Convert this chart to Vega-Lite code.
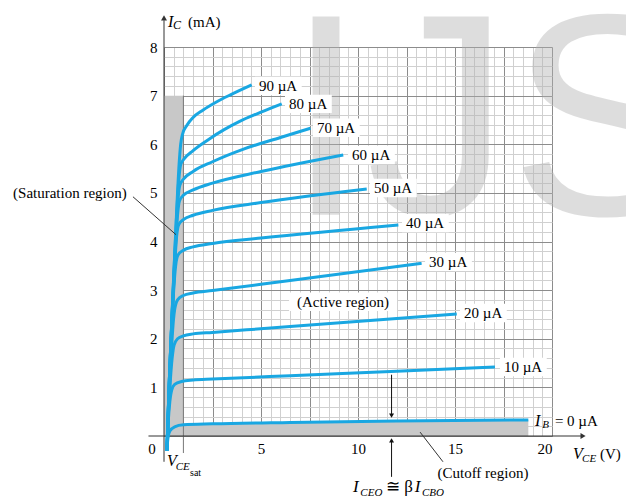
{
  "$schema": "https://vega.github.io/schema/vega-lite/v6.json",
  "width": 388,
  "height": 389,
  "autosize": {"type": "none"},
  "padding": {"left": 164, "top": 47, "right": 74, "bottom": 66},
  "background": "white",
  "config": {"view": {"stroke": null}, "text": {"font": "Liberation Serif", "color": "black"}},
  "datasets": {
    "curves": [
      {"ib": "0", "v": 0.15, "i": -0.3}, {"ib": "0", "v": 0.2, "i": -0.05}, {"ib": "0", "v": 0.3, "i": 0.1}, {"ib": "0", "v": 0.55, "i": 0.19}, {"ib": "0", "v": 1.0, "i": 0.23}, {"ib": "0", "v": 2.5, "i": 0.25}, {"ib": "0", "v": 6.5, "i": 0.28}, {"ib": "0", "v": 12, "i": 0.31}, {"ib": "0", "v": 18.78, "i": 0.33},
      {"ib": "10", "v": 0.15, "i": -0.3}, {"ib": "10", "v": 0.22, "i": 0.3}, {"ib": "10", "v": 0.3, "i": 0.7}, {"ib": "10", "v": 0.4, "i": 0.95}, {"ib": "10", "v": 0.55, "i": 1.06}, {"ib": "10", "v": 0.9, "i": 1.12}, {"ib": "10", "v": 1.5, "i": 1.15}, {"ib": "10", "v": 2.5, "i": 1.17}, {"ib": "10", "v": 6.5, "i": 1.24}, {"ib": "10", "v": 12, "i": 1.33}, {"ib": "10", "v": 17.06, "i": 1.42},
      {"ib": "20", "v": 0.15, "i": -0.3}, {"ib": "20", "v": 0.22, "i": 0.4}, {"ib": "20", "v": 0.32, "i": 1.1}, {"ib": "20", "v": 0.42, "i": 1.6}, {"ib": "20", "v": 0.52, "i": 1.87}, {"ib": "20", "v": 0.7, "i": 2.0}, {"ib": "20", "v": 1.0, "i": 2.06}, {"ib": "20", "v": 1.5, "i": 2.1}, {"ib": "20", "v": 2.5, "i": 2.13}, {"ib": "20", "v": 6.5, "i": 2.25}, {"ib": "20", "v": 15.09, "i": 2.51},
      {"ib": "30", "v": 0.15, "i": -0.3}, {"ib": "30", "v": 0.23, "i": 0.5}, {"ib": "30", "v": 0.35, "i": 1.5}, {"ib": "30", "v": 0.45, "i": 2.2}, {"ib": "30", "v": 0.55, "i": 2.6}, {"ib": "30", "v": 0.7, "i": 2.8}, {"ib": "30", "v": 1.0, "i": 2.89}, {"ib": "30", "v": 1.5, "i": 2.94}, {"ib": "30", "v": 2.5, "i": 2.99}, {"ib": "30", "v": 6.5, "i": 3.2}, {"ib": "30", "v": 13.28, "i": 3.55},
      {"ib": "40", "v": 0.15, "i": -0.3}, {"ib": "40", "v": 0.25, "i": 0.8}, {"ib": "40", "v": 0.38, "i": 2.0}, {"ib": "40", "v": 0.5, "i": 3.0}, {"ib": "40", "v": 0.6, "i": 3.5}, {"ib": "40", "v": 0.72, "i": 3.72}, {"ib": "40", "v": 1.0, "i": 3.82}, {"ib": "40", "v": 1.5, "i": 3.89}, {"ib": "40", "v": 2.5, "i": 3.96}, {"ib": "40", "v": 5, "i": 4.07}, {"ib": "40", "v": 12.08, "i": 4.34},
      {"ib": "50", "v": 0.15, "i": -0.3}, {"ib": "50", "v": 0.26, "i": 1.0}, {"ib": "50", "v": 0.4, "i": 2.3}, {"ib": "50", "v": 0.55, "i": 3.5}, {"ib": "50", "v": 0.65, "i": 4.1}, {"ib": "50", "v": 0.76, "i": 4.35}, {"ib": "50", "v": 1.0, "i": 4.45}, {"ib": "50", "v": 1.5, "i": 4.54}, {"ib": "50", "v": 2.5, "i": 4.64}, {"ib": "50", "v": 5, "i": 4.8}, {"ib": "50", "v": 10.45, "i": 5.08},
      {"ib": "60", "v": 0.15, "i": -0.3}, {"ib": "60", "v": 0.27, "i": 1.1}, {"ib": "60", "v": 0.42, "i": 2.5}, {"ib": "60", "v": 0.58, "i": 3.8}, {"ib": "60", "v": 0.7, "i": 4.55}, {"ib": "60", "v": 0.8, "i": 4.84}, {"ib": "60", "v": 1.0, "i": 4.95}, {"ib": "60", "v": 1.5, "i": 5.06}, {"ib": "60", "v": 2.5, "i": 5.2}, {"ib": "60", "v": 5, "i": 5.44}, {"ib": "60", "v": 9.24, "i": 5.78},
      {"ib": "70", "v": 0.15, "i": -0.3}, {"ib": "70", "v": 0.28, "i": 1.2}, {"ib": "70", "v": 0.44, "i": 2.7}, {"ib": "70", "v": 0.6, "i": 4.0}, {"ib": "70", "v": 0.72, "i": 4.85}, {"ib": "70", "v": 0.82, "i": 5.16}, {"ib": "70", "v": 1.0, "i": 5.28}, {"ib": "70", "v": 1.5, "i": 5.44}, {"ib": "70", "v": 2.5, "i": 5.64}, {"ib": "70", "v": 4.1, "i": 5.9}, {"ib": "70", "v": 6.0, "i": 6.14}, {"ib": "70", "v": 7.55, "i": 6.33},
      {"ib": "80", "v": 0.15, "i": -0.3}, {"ib": "80", "v": 0.29, "i": 1.3}, {"ib": "80", "v": 0.46, "i": 2.9}, {"ib": "80", "v": 0.62, "i": 4.3}, {"ib": "80", "v": 0.75, "i": 5.2}, {"ib": "80", "v": 0.86, "i": 5.58}, {"ib": "80", "v": 1.0, "i": 5.68}, {"ib": "80", "v": 1.5, "i": 5.87}, {"ib": "80", "v": 2.3, "i": 6.1}, {"ib": "80", "v": 3.1, "i": 6.3}, {"ib": "80", "v": 3.9, "i": 6.47}, {"ib": "80", "v": 5.0, "i": 6.66}, {"ib": "80", "v": 6.07, "i": 6.83},
      {"ib": "90", "v": 0.15, "i": -0.3}, {"ib": "90", "v": 0.3, "i": 1.4}, {"ib": "90", "v": 0.48, "i": 3.1}, {"ib": "90", "v": 0.65, "i": 4.6}, {"ib": "90", "v": 0.78, "i": 5.6}, {"ib": "90", "v": 0.86, "i": 6.0}, {"ib": "90", "v": 0.95, "i": 6.2}, {"ib": "90", "v": 1.2, "i": 6.4}, {"ib": "90", "v": 1.5, "i": 6.55}, {"ib": "90", "v": 2.0, "i": 6.7}, {"ib": "90", "v": 2.7, "i": 6.87}, {"ib": "90", "v": 3.5, "i": 7.03}, {"ib": "90", "v": 4.52, "i": 7.22}
    ],
    "labels": [
      {"lab": "90 µA", "v": 4.79, "i": 7.2},
      {"lab": "80 µA", "v": 6.34, "i": 6.83},
      {"lab": "70 µA", "v": 7.78, "i": 6.34},
      {"lab": "60 µA", "v": 9.59, "i": 5.78},
      {"lab": "50 µA", "v": 10.72, "i": 5.1},
      {"lab": "40 µA", "v": 12.37, "i": 4.38},
      {"lab": "30 µA", "v": 13.56, "i": 3.58},
      {"lab": "20 µA", "v": 15.36, "i": 2.53},
      {"lab": "10 µA", "v": 17.42, "i": 1.42}
    ]
  },
  "layer": [
    {
      "data": {"values": [{}]},
      "mark": {"type": "point", "opacity": 0},
      "encoding": {
        "x": {"datum": 0, "type": "quantitative", "scale": {"domain": [0, 20], "nice": false, "zero": false},
          "axis": {"orient": "top", "title": null, "labels": false, "ticks": false, "domain": false, "grid": true, "gridColor": "#d0d0d0", "gridWidth": 1,
            "values": [0,0.5,1,1.5,2,2.5,3,3.5,4,4.5,5,5.5,6,6.5,7,7.5,8,8.5,9,9.5,10,10.5,11,11.5,12,12.5,13,13.5,14,14.5,15,15.5,16,16.5,17,17.5,18,18.5,19,19.5,20]}},
        "y": {"datum": 0, "type": "quantitative", "scale": {"domain": [0, 8], "nice": false, "zero": false},
          "axis": {"orient": "right", "title": null, "labels": false, "ticks": false, "domain": false, "grid": true, "gridColor": "#d0d0d0", "gridWidth": 1,
            "values": [0,0.2,0.4,0.6,0.8,1,1.2,1.4,1.6,1.8,2,2.2,2.4,2.6,2.8,3,3.2,3.4,3.6,3.8,4,4.2,4.4,4.6,4.8,5,5.2,5.4,5.6,5.8,6,6.2,6.4,6.6,6.8,7,7.2,7.4,7.6,7.8,8]}}
      }
    },
    {
      "layer": [
        {
          "data": {"name": "curves"},
          "transform": [{"filter": "datum.ib === '0' && datum.v >= 1"}],
          "mark": {"type": "area", "interpolate": "monotone", "color": "#c8c8c8"},
          "encoding": {
            "x": {"field": "v", "type": "quantitative", "scale": {"domain": [0, 20], "nice": false, "zero": false},
              "axis": {"orient": "bottom", "title": null, "grid": true, "gridColor": "#8c8c8c", "gridWidth": 1, "domain": false, "ticks": false,
                "values": [0, 2.5, 5, 7.5, 10, 12.5, 15, 17.5, 20],
                "labelExpr": "datum.value % 5 === 0 && datum.value > 0 ? datum.label : ''",
                "labelFont": "Liberation Serif", "labelFontSize": 15, "labelColor": "black", "labelPadding": 5, "labelBaseline": "top"}},
            "y": {"field": "i", "type": "quantitative", "scale": {"domain": [0, 8], "nice": false, "zero": false},
              "axis": {"orient": "left", "title": null, "grid": true, "gridColor": "#8c8c8c", "gridWidth": 1, "domain": false, "ticks": false,
                "values": [0, 1, 2, 3, 4, 5, 6, 7, 8],
                "labelExpr": "datum.value > 0 ? datum.label : ''",
                "labelFont": "Liberation Serif", "labelFontSize": 15, "labelColor": "black", "labelPadding": 7}},
            "y2": {"datum": 0}
          }
        },
        {
          "data": {"values": [{}]},
          "mark": {"type": "rect", "color": "#c8c8c8"},
          "encoding": {
            "x": {"datum": 0, "type": "quantitative"}, "x2": {"datum": 1},
            "y": {"datum": 0, "type": "quantitative"}, "y2": {"datum": 7}
          }
        },
        {
          "data": {"values": [{}]},
          "mark": {"type": "text", "text": "IJS", "font": "Liberation Sans", "fontSize": 288, "align": "left", "baseline": "alphabetic", "color": "#b0b0b0", "opacity": 0.42},
          "encoding": {"x": {"datum": 6.29, "type": "quantitative"}, "y": {"datum": 4.55, "type": "quantitative"}}
        },
        {
          "data": {"values": [{}]},
          "mark": {"type": "rule", "color": "#777777", "strokeWidth": 1},
          "encoding": {"x": {"datum": 1, "type": "quantitative"}, "y": {"datum": -0.35, "type": "quantitative"}, "y2": {"datum": 7}}
        },
        {
          "data": {"values": [{}]},
          "mark": {"type": "rule", "color": "#333333", "strokeWidth": 1},
          "encoding": {"x": {"datum": 0, "type": "quantitative"}, "y": {"datum": -0.53, "type": "quantitative"}, "y2": {"datum": 8.55}}
        },
        {
          "data": {"values": [{}]},
          "mark": {"type": "rule", "color": "#333333", "strokeWidth": 1},
          "encoding": {"x": {"datum": -0.8, "type": "quantitative"}, "x2": {"datum": 21.5}, "y": {"datum": 0, "type": "quantitative"}}
        },
        {
          "data": {"values": [{}]},
          "mark": {"type": "point", "shape": "triangle-up", "filled": true, "color": "#333333", "size": 35, "opacity": 1},
          "encoding": {"x": {"datum": 0, "type": "quantitative"}, "y": {"datum": 8.6, "type": "quantitative"}}
        },
        {
          "data": {"values": [{}]},
          "mark": {"type": "point", "shape": "triangle-right", "filled": true, "color": "#333333", "size": 35, "opacity": 1},
          "encoding": {"x": {"datum": 21.6, "type": "quantitative"}, "y": {"datum": 0, "type": "quantitative"}}
        },
        {
          "data": {"name": "curves"},
          "mark": {"type": "line", "interpolate": "monotone", "color": "#19a7e2", "strokeWidth": 3, "strokeCap": "butt"},
          "encoding": {
            "x": {"field": "v", "type": "quantitative"},
            "y": {"field": "i", "type": "quantitative"},
            "detail": {"field": "ib"}
          }
        },
        {
          "data": {"values": [{}]},
          "mark": {"type": "rule", "color": "#333333", "strokeWidth": 1},
          "encoding": {"x": {"datum": -1.6, "type": "quantitative"}, "y": {"datum": 4.92, "type": "quantitative"}, "x2": {"datum": 0.62}, "y2": {"datum": 4.14}}
        },
        {
          "data": {"values": [{}]},
          "mark": {"type": "rule", "color": "#333333", "strokeWidth": 1},
          "encoding": {"x": {"datum": 13.2, "type": "quantitative"}, "y": {"datum": 0.08, "type": "quantitative"}, "x2": {"datum": 14.38}, "y2": {"datum": -0.53}}
        },
        {
          "data": {"values": [{}]},
          "mark": {"type": "rule", "color": "#111111", "strokeWidth": 1},
          "encoding": {"x": {"datum": 11.73, "type": "quantitative"}, "y": {"datum": 1.26, "type": "quantitative"}, "y2": {"datum": 0.45}}
        },
        {
          "data": {"values": [{}]},
          "mark": {"type": "point", "shape": "triangle-down", "filled": true, "color": "#111111", "size": 25, "opacity": 1},
          "encoding": {"x": {"datum": 11.73, "type": "quantitative"}, "y": {"datum": 0.42, "type": "quantitative"}}
        },
        {
          "data": {"values": [{}]},
          "mark": {"type": "rule", "color": "#111111", "strokeWidth": 1},
          "encoding": {"x": {"datum": 11.73, "type": "quantitative"}, "y": {"datum": -0.84, "type": "quantitative"}, "y2": {"datum": -0.12}}
        },
        {
          "data": {"values": [{}]},
          "mark": {"type": "point", "shape": "triangle-up", "filled": true, "color": "#111111", "size": 25, "opacity": 1},
          "encoding": {"x": {"datum": 11.73, "type": "quantitative"}, "y": {"datum": -0.09, "type": "quantitative"}}
        },
        {
          "data": {"name": "labels"},
          "mark": {"type": "point", "shape": "M-0.05,-0.23H1.12V0.23H-0.05Z", "filled": true, "color": "white", "size": 6400, "opacity": 1, "strokeWidth": 0},
          "encoding": {"x": {"field": "v", "type": "quantitative"}, "y": {"field": "i", "type": "quantitative"}}
        },
        {
          "data": {"name": "labels"},
          "mark": {"type": "text", "fontSize": 15, "align": "left", "baseline": "middle", "dx": 2},
          "encoding": {"x": {"field": "v", "type": "quantitative"}, "y": {"field": "i", "type": "quantitative"}, "text": {"field": "lab"}}
        },
        {
          "data": {"values": [{}]},
          "mark": {"type": "point", "shape": "M-1.35,-0.23H1.35V0.23H-1.35Z", "filled": true, "color": "white", "size": 6400, "opacity": 1, "strokeWidth": 0},
          "encoding": {"x": {"datum": 9.23, "type": "quantitative"}, "y": {"datum": 2.76, "type": "quantitative"}}
        },
        {
          "data": {"values": [{}]},
          "mark": {"type": "text", "text": "(Active region)", "fontSize": 15, "align": "center", "baseline": "middle"},
          "encoding": {"x": {"datum": 9.23, "type": "quantitative"}, "y": {"datum": 2.76, "type": "quantitative"}}
        },
        {
          "data": {"values": [{}]},
          "mark": {"type": "text", "text": "(Saturation region)", "fontSize": 15, "align": "center", "baseline": "middle"},
          "encoding": {"x": {"datum": -4.85, "type": "quantitative"}, "y": {"datum": 5.0, "type": "quantitative"}}
        },
        {
          "data": {"values": [{}]},
          "mark": {"type": "text", "text": "(Cutoff region)", "fontSize": 15, "align": "center", "baseline": "middle"},
          "encoding": {"x": {"datum": 16.44, "type": "quantitative"}, "y": {"datum": -0.76, "type": "quantitative"}}
        },
        {
          "data": {"values": [{}]},
          "mark": {"type": "text", "text": "0", "fontSize": 15, "align": "center", "baseline": "middle"},
          "encoding": {"x": {"datum": -0.62, "type": "quantitative"}, "y": {"datum": -0.27, "type": "quantitative"}}
        },
        {
          "data": {"values": [{}]},
          "mark": {"type": "text", "text": "I", "fontSize": 16, "fontStyle": "italic", "align": "left", "baseline": "alphabetic"},
          "encoding": {"x": {"datum": 0.2, "type": "quantitative"}, "y": {"datum": 8.42, "type": "quantitative"}}
        },
        {
          "data": {"values": [{}]},
          "mark": {"type": "text", "text": "C", "fontSize": 12, "fontStyle": "italic", "align": "left", "baseline": "alphabetic"},
          "encoding": {"x": {"datum": 0.47, "type": "quantitative"}, "y": {"datum": 8.38, "type": "quantitative"}}
        },
        {
          "data": {"values": [{}]},
          "mark": {"type": "text", "text": "(mA)", "fontSize": 15, "align": "left", "baseline": "alphabetic"},
          "encoding": {"x": {"datum": 1.24, "type": "quantitative"}, "y": {"datum": 8.42, "type": "quantitative"}}
        },
        {
          "data": {"values": [{}]},
          "mark": {"type": "text", "text": "V", "fontSize": 16, "fontStyle": "italic", "align": "left", "baseline": "alphabetic"},
          "encoding": {"x": {"datum": 21.08, "type": "quantitative"}, "y": {"datum": -0.47, "type": "quantitative"}}
        },
        {
          "data": {"values": [{}]},
          "mark": {"type": "text", "text": "CE", "fontSize": 11, "fontStyle": "italic", "align": "left", "baseline": "alphabetic"},
          "encoding": {"x": {"datum": 21.55, "type": "quantitative"}, "y": {"datum": -0.54, "type": "quantitative"}}
        },
        {
          "data": {"values": [{}]},
          "mark": {"type": "text", "text": "(V)", "fontSize": 15, "align": "left", "baseline": "alphabetic"},
          "encoding": {"x": {"datum": 22.47, "type": "quantitative"}, "y": {"datum": -0.47, "type": "quantitative"}}
        },
        {
          "data": {"values": [{}]},
          "mark": {"type": "text", "text": "V", "fontSize": 16, "fontStyle": "italic", "align": "left", "baseline": "alphabetic"},
          "encoding": {"x": {"datum": 0.15, "type": "quantitative"}, "y": {"datum": -0.62, "type": "quantitative"}}
        },
        {
          "data": {"values": [{}]},
          "mark": {"type": "text", "text": "CE", "fontSize": 11, "fontStyle": "italic", "align": "left", "baseline": "alphabetic"},
          "encoding": {"x": {"datum": 0.6, "type": "quantitative"}, "y": {"datum": -0.69, "type": "quantitative"}}
        },
        {
          "data": {"values": [{}]},
          "mark": {"type": "text", "text": "sat", "fontSize": 10, "align": "left", "baseline": "alphabetic"},
          "encoding": {"x": {"datum": 1.34, "type": "quantitative"}, "y": {"datum": -0.82, "type": "quantitative"}}
        },
        {
          "data": {"values": [{}]},
          "mark": {"type": "text", "text": "I", "fontSize": 16, "fontStyle": "italic", "align": "left", "baseline": "alphabetic"},
          "encoding": {"x": {"datum": 19.12, "type": "quantitative"}, "y": {"datum": 0.2, "type": "quantitative"}}
        },
        {
          "data": {"values": [{}]},
          "mark": {"type": "text", "text": "B", "fontSize": 11, "fontStyle": "italic", "align": "left", "baseline": "alphabetic"},
          "encoding": {"x": {"datum": 19.5, "type": "quantitative"}, "y": {"datum": 0.16, "type": "quantitative"}}
        },
        {
          "data": {"values": [{}]},
          "mark": {"type": "text", "text": "= 0 µA", "fontSize": 15, "align": "left", "baseline": "alphabetic"},
          "encoding": {"x": {"datum": 20.15, "type": "quantitative"}, "y": {"datum": 0.2, "type": "quantitative"}}
        },
        {
          "data": {"values": [{}]},
          "mark": {"type": "text", "text": "I", "fontSize": 17, "fontStyle": "italic", "align": "left", "baseline": "alphabetic"},
          "encoding": {"x": {"datum": 9.74, "type": "quantitative"}, "y": {"datum": -1.15, "type": "quantitative"}}
        },
        {
          "data": {"values": [{}]},
          "mark": {"type": "text", "text": "CEO", "fontSize": 11, "fontStyle": "italic", "align": "left", "baseline": "alphabetic"},
          "encoding": {"x": {"datum": 10.12, "type": "quantitative"}, "y": {"datum": -1.23, "type": "quantitative"}}
        },
        {
          "data": {"values": [{}]},
          "mark": {"type": "text", "text": "≅ β", "fontSize": 17, "align": "left", "baseline": "alphabetic"},
          "encoding": {"x": {"datum": 11.44, "type": "quantitative"}, "y": {"datum": -1.15, "type": "quantitative"}}
        },
        {
          "data": {"values": [{}]},
          "mark": {"type": "text", "text": "I", "fontSize": 17, "fontStyle": "italic", "align": "left", "baseline": "alphabetic"},
          "encoding": {"x": {"datum": 12.92, "type": "quantitative"}, "y": {"datum": -1.15, "type": "quantitative"}}
        },
        {
          "data": {"values": [{}]},
          "mark": {"type": "text", "text": "CBO", "fontSize": 11, "fontStyle": "italic", "align": "left", "baseline": "alphabetic"},
          "encoding": {"x": {"datum": 13.3, "type": "quantitative"}, "y": {"datum": -1.23, "type": "quantitative"}}
        }
      ]
    }
  ],
  "resolve": {"axis": {"x": "independent", "y": "independent"}}
}
